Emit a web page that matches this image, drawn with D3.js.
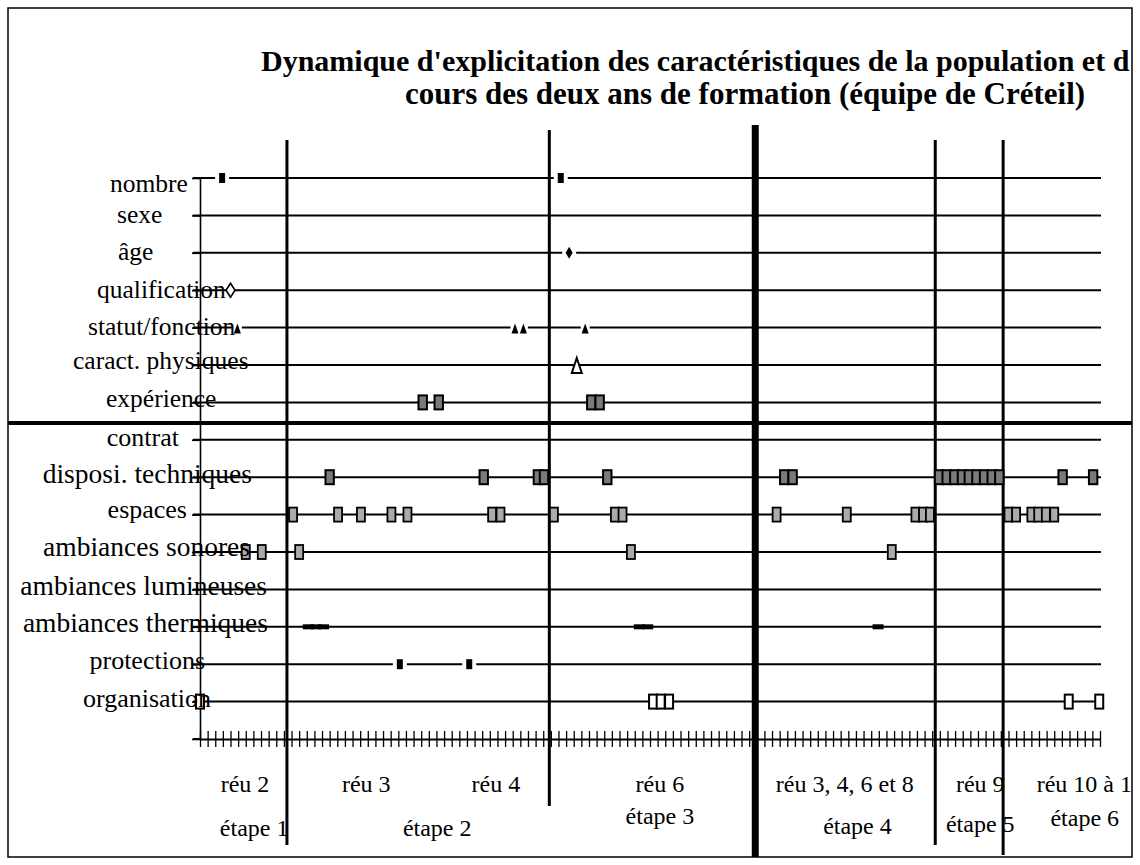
<!DOCTYPE html>
<html><head><meta charset="utf-8">
<script src="https://cdn.jsdelivr.net/npm/d3@7"></script>
<style>
body{margin:0;background:#fff}
svg text{font-family:"Liberation Serif","Times New Roman",serif;fill:#000}
</style>
</head><body>
<svg id="c" width="1140" height="865"></svg>
<script>
// ---------------- data ----------------
const categories = ["nombre","sexe","âge","qualification","statut/fonction","caract. physiques","expérience",
  "contrat","disposi. techniques","espaces","ambiances sonores","ambiances lumineuses","ambiances thermiques","protections","organisation"];
const tickMax = 118;                       // time units along the two years
const phaseLines = [11.4, 45.8, 72.8, 96.4, 105.3];
const separatorLevel = 8.45;               // between "expérience" and "contrat"

const nombreVals       = [2.9, 47.3];
const sexeVals         = [];
const ageVals          = [48.4];
const qualificationVals= [4.0];
const statutVals       = [4.9, 41.3, 42.4, 50.5];
const physiquesVals    = [49.4];
const experienceVals   = [29.2, 31.3, 51.3, 52.4];
const contratVals      = [];
const techniquesVals   = [17.0, 37.2, 44.3, 45.1, 53.4, 76.6, 77.7, 96.9, 97.9, 98.9, 99.9, 100.8, 101.8, 102.8, 103.8, 104.8, 113.1, 117.1];
const espacesVals      = [12.2, 18.1, 21.1, 25.1, 27.2, 38.3, 39.4, 46.4, 54.4, 55.4, 75.6, 84.8, 93.8, 94.8, 95.7, 106.0, 107.0, 109.0, 109.9, 110.9, 112.0];
const sonoresVals      = [6.0, 8.1, 13.0, 56.5, 90.7];
const lumineusesVals   = [];
const thermiquesVals   = [14.2, 15.2, 16.2, 57.6, 58.7, 88.9];
const protectionsVals  = [26.2, 35.3];
const organisationVals = [0.0, 59.4, 60.4, 61.5, 113.9, 117.9];

const titleLines = ["Dynamique d'explicitation des caractéristiques de la population et d",
                    "cours des deux ans de formation (équipe de Créteil)"];
const sessionLabels = ["réu 2","réu 3","réu 4","réu 6","réu 3, 4, 6  et 8","réu 9","réu 10 à 1"];
const stageLabels   = ["étape 1","étape 2","étape 3","étape 4","étape 5","étape 6"];

// ---------------- layout ----------------
const svg = d3.select("#c");
const x = d3.scaleLinear().domain([0, tickMax]).range([200, 1100]);
const y = d3.scaleLinear().domain([0, categories.length]).range([739, 178]);
const level = i => categories.length - i;   // top category = highest level

const rows = [
  {vals:nombreVals, type:"bar"}, {vals:sexeVals, type:"bar"}, {vals:ageVals, type:"diamond"},
  {vals:qualificationVals, type:"diamondOpen"}, {vals:statutVals, type:"tri"}, {vals:physiquesVals, type:"triOpen"},
  {vals:experienceVals, type:"sqDark"}, {vals:contratVals, type:"sqDark"}, {vals:techniquesVals, type:"sqDark"},
  {vals:espacesVals, type:"sqLight"}, {vals:sonoresVals, type:"sqLight"}, {vals:lumineusesVals, type:"sqLight"},
  {vals:thermiquesVals, type:"dash"}, {vals:protectionsVals, type:"bar"}, {vals:organisationVals, type:"sqOpen"}
];

// clip to frame
svg.append("defs").append("clipPath").attr("id","frame")
  .append("rect").attr("x",8).attr("y",8).attr("width",1124).attr("height",849);
const g = svg.append("g").attr("clip-path","url(#frame)");

// title
const title = g.append("g").attr("font-weight","bold");
title.append("text").attr("x",261).attr("y",71).attr("font-size",30).text(titleLines[0]);
title.append("text").attr("x",745).attr("y",104).attr("font-size",31).attr("text-anchor","middle").text(titleLines[1]);

// grid lines per category
g.append("g").selectAll("line").data(categories).join("line")
  .attr("x1", x(0)-7).attr("x2", x(tickMax)+1)
  .attr("y1", (d,i)=>y(level(i))).attr("y2",(d,i)=>y(level(i)))
  .attr("stroke","#000").attr("stroke-width",2);

// y axis
const yAxis = g.append("g").attr("transform",`translate(${x(0)},0)`)
  .call(d3.axisLeft(y).tickValues(d3.range(0, categories.length+1)).tickSize(8).tickSizeOuter(0).tickFormat(""));
yAxis.selectAll("path,line").attr("stroke","#000").attr("stroke-width",1.6);

// x axis with crossing ticks
const xAxis = g.append("g").attr("transform",`translate(0,${y(0)})`)
  .call(d3.axisBottom(x).tickValues(d3.range(0, tickMax+1)).tickSize(16).tickSizeOuter(0).tickFormat(""));
xAxis.selectAll("line").attr("transform","translate(0,-8)").attr("stroke","#000").attr("stroke-width",1.3);
xAxis.select("path").attr("stroke","#000").attr("stroke-width",2);
g.append("line").attr("x1",x(0)-7).attr("x2",x(0)).attr("y1",y(0)).attr("y2",y(0)).attr("stroke","#000").attr("stroke-width",2);

// phase (stage) vertical lines
const phaseStyle = [{y1:140,y2:845,w:3},{y1:130,y2:806,w:3},{y1:125,y2:865,w:7},{y1:140,y2:845,w:3},{y1:140,y2:855,w:3}];
g.append("g").selectAll("line").data(phaseLines).join("line")
  .attr("x1",d=>x(d)).attr("x2",d=>x(d))
  .attr("y1",(d,i)=>phaseStyle[i].y1).attr("y2",(d,i)=>phaseStyle[i].y2)
  .attr("stroke","#000").attr("stroke-width",(d,i)=>phaseStyle[i].w);

// separator
g.append("line").attr("x1",8).attr("x2",1132).attr("y1",y(separatorLevel)).attr("y2",y(separatorLevel))
  .attr("stroke","#000").attr("stroke-width",4);

// markers
const mk = g.append("g");
rows.forEach((r,i)=>{
  const cy = y(level(i));
  r.vals.forEach(v=>{
    const cx = x(v);
    const t = r.type;
    if (t==="bar" || t==="diamond" || t==="tri") {
      const hw = t==="tri" ? 9 : 14;
      mk.append("rect").attr("x",cx-hw/2).attr("y",cy-2.5).attr("width",hw).attr("height",5).attr("fill","#fff");
    }
    if (t==="bar") mk.append("rect").attr("x",cx-3).attr("y",cy-5).attr("width",6).attr("height",10).attr("fill","#000");
    else if (t==="diamond") mk.append("path").attr("d",`M${cx},${cy-6}L${cx+3.5},${cy}L${cx},${cy+6}L${cx-3.5},${cy}Z`).attr("fill","#000");
    else if (t==="diamondOpen") mk.append("path").attr("d",`M${cx},${cy-7}L${cx+4.5},${cy}L${cx},${cy+7}L${cx-4.5},${cy}Z`).attr("fill","#fff").attr("stroke","#000").attr("stroke-width",1.6);
    else if (t==="tri") mk.append("path").attr("d",`M${cx},${cy-4}L${cx+3.5},${cy+6}L${cx-3.5},${cy+6}Z`).attr("fill","#000");
    else if (t==="triOpen") mk.append("path").attr("d",`M${cx},${cy-7}L${cx+5},${cy+8}L${cx-5},${cy+8}Z`).attr("fill","#fff").attr("stroke","#000").attr("stroke-width",2);
    else if (t==="sqDark") mk.append("rect").attr("x",cx-4.2).attr("y",cy-7).attr("width",8.4).attr("height",14).attr("fill","#7a7a7a").attr("stroke","#000").attr("stroke-width",2);
    else if (t==="sqLight") mk.append("rect").attr("x",cx-4).attr("y",cy-7).attr("width",8).attr("height",14).attr("fill","#ababab").attr("stroke","#000").attr("stroke-width",1.8);
    else if (t==="sqOpen") mk.append("rect").attr("x",cx-4).attr("y",cy-7).attr("width",8).attr("height",14).attr("fill","#fff").attr("stroke","#000").attr("stroke-width",2);
    else if (t==="dash") mk.append("rect").attr("x",cx-5.5).attr("y",cy-2.5).attr("width",11).attr("height",5).attr("fill","#000");
  });
});

// category labels: upper block placed by left edge, lower block by right edge
const upperLeft = [110,117,118,97,88,73,106];
const upperBase = [192,223,260,298,335,369,407];
const lowerRight = [179,252,187,250,267,268,205,211];
const lowerBase  = [446,483,518,556,595,632,669,707];
const lowerSize  = [26,27.5,26,27.5,27.5,27.5,26,26];
g.append("g").attr("font-size",25.5).selectAll("text").data(categories.slice(0,7)).join("text")
  .attr("x",(d,i)=>upperLeft[i]).attr("y",(d,i)=>upperBase[i]).text(d=>d);
g.append("g").attr("text-anchor","end").selectAll("text").data(categories.slice(7)).join("text")
  .attr("x",(d,i)=>lowerRight[i]).attr("y",(d,i)=>lowerBase[i]).attr("font-size",(d,i)=>lowerSize[i]).text(d=>d);

// bottom labels
const sessionPos = [[5.9,792],[21.8,792],[38.8,792],[60.3,792],[75.5,792,"start"],[102.3,792],[109.7,792,"start"]];
const stagePos   = [[7.1,836],[31.1,836],[60.3,824],[86.2,834],[102.3,832],[116.0,826]];
const bl = g.append("g").attr("font-size",24);
bl.selectAll("text.s").data(sessionLabels).join("text").attr("class","s")
  .attr("x",(d,i)=>x(sessionPos[i][0])).attr("y",(d,i)=>sessionPos[i][1])
  .attr("text-anchor",(d,i)=>sessionPos[i][2]||"middle").text(d=>d);
bl.selectAll("text.e").data(stageLabels).join("text").attr("class","e")
  .attr("x",(d,i)=>x(stagePos[i][0])).attr("y",(d,i)=>stagePos[i][1])
  .attr("text-anchor","middle").text(d=>d);

// frame
svg.append("rect").attr("x",8).attr("y",8).attr("width",1124).attr("height",849)
  .attr("fill","none").attr("stroke","#000").attr("stroke-width",1.5);
</script>
</body></html>
